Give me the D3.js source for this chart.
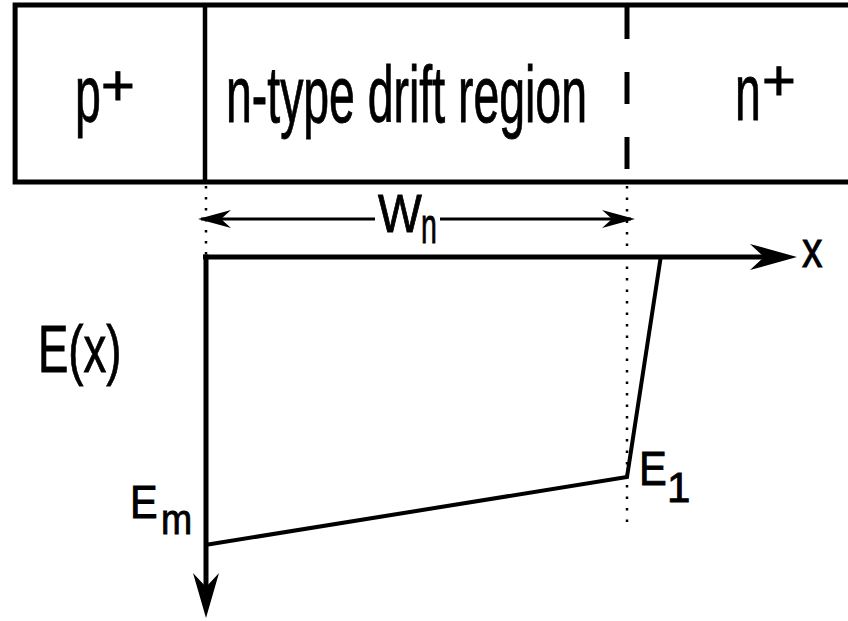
<!DOCTYPE html>
<html lang="en">

<head>
  <meta charset="utf-8">
  <title>Field profile in a p+ n n+ diode</title>
  <script src="https://cdnjs.cloudflare.com/ajax/libs/d3/7.8.5/d3.min.js"></script>
  <style>
    body { margin: 0; background: white; }
    text { font-family: 'Liberation Sans', Arial, sans-serif; fill: black; stroke: black; stroke-width: 0.9; }
  </style>
</head>

<body>

  <figure id="chart" style="margin:0"></figure>

  <script>
    // regions along x (drift width Wn = 1)
    const regionNames = ['p', 'n-type drift region', 'n'];
    const regionSups = ['+', '', '+'];
    const regionEdges = [-0.45, 0, 1, 1.53];

    // field profile E(x), normalised to Em = 1
    const fieldX = [0, 1, 1.08];
    const fieldE = [1, 0.764, 0];

    const axisLabels = ['x', 'E(x)'];
    const pointLabels = [['E', 'm'], ['E', '1']];
    const widthLabel = ['W', 'n'];

    createChart('figure#chart', 848, 621);

    function createChart(elementId, width, height) {

      const svg = d3.select(elementId)
        .append('svg')
        .attr('width', width)
        .attr('height', height);

      // scales

      const xScale = d3.scaleLinear()
        .domain([0, 1])
        .range([205, 627]);

      const yScale = d3.scaleLinear()
        .domain([0, 1])
        .range([257, 545]);

      const boxTop = 5;
      const boxBottom = 182;

      // condensed text helper
      function label(x, y, str, size, sx, anchor) {
        return svg.append('text')
          .attr('transform', `translate(${x},${y}) scale(${sx},1)`)
          .attr('font-size', size)
          .attr('text-anchor', anchor || 'start')
          .text(str);
      }

      function stealth(tipX, tipY, dir, len, half, notch) {
        // dir: 'right', 'left', 'down'
        let p;
        if (dir === 'right') p = [[tipX, tipY], [tipX - len, tipY - half], [tipX - len + notch, tipY], [tipX - len, tipY + half]];
        if (dir === 'left') p = [[tipX, tipY], [tipX + len, tipY - half], [tipX + len - notch, tipY], [tipX + len, tipY + half]];
        if (dir === 'down') p = [[tipX, tipY], [tipX - half, tipY - len], [tipX, tipY - len + notch], [tipX + half, tipY - len]];
        svg.append('path')
          .attr('d', d3.line()(p) + 'Z')
          .attr('fill', 'black');
      }

      // device box

      svg.append('rect')
        .attr('x', xScale(regionEdges[0]))
        .attr('y', boxTop)
        .attr('width', xScale(regionEdges[3]) - xScale(regionEdges[0]))
        .attr('height', boxBottom - boxTop)
        .attr('fill', 'none')
        .attr('stroke', 'black')
        .attr('stroke-width', 5);

      svg.append('line')
        .attr('x1', xScale(regionEdges[1])).attr('x2', xScale(regionEdges[1]))
        .attr('y1', boxTop).attr('y2', boxBottom)
        .attr('stroke', 'black')
        .attr('stroke-width', 4.5);

      svg.append('line')
        .attr('x1', xScale(regionEdges[2])).attr('x2', xScale(regionEdges[2]))
        .attr('y1', boxTop + 2).attr('y2', boxBottom)
        .attr('stroke', 'black')
        .attr('stroke-width', 5)
        .attr('stroke-dasharray', '32,33');

      // region labels

      label(75, 121, regionNames[0], 80, 0.58);
      label(118, 105, regionSups[0], 58, 1, 'middle');
      label(226, 122, regionNames[1], 80, 0.58);
      label(735, 120, regionNames[2], 80, 0.58);
      label(779, 100, regionSups[2], 58, 1, 'middle');

      // dotted guides

      svg.append('line')
        .attr('x1', xScale(0) + 1).attr('x2', xScale(0) + 1)
        .attr('y1', boxBottom + 4).attr('y2', yScale(0))
        .attr('stroke', 'black')
        .attr('stroke-width', 2.5)
        .attr('stroke-dasharray', '2.5,8.5');

      svg.append('line')
        .attr('x1', xScale(1)).attr('x2', xScale(1))
        .attr('y1', boxBottom + 4).attr('y2', 531)
        .attr('stroke', 'black')
        .attr('stroke-width', 2.5)
        .attr('stroke-dasharray', '2.5,9');

      // Wn dimension arrow

      const wy = 219;
      svg.append('line')
        .attr('x1', xScale(0) - 4).attr('x2', 375)
        .attr('y1', wy).attr('y2', wy)
        .attr('stroke', 'black').attr('stroke-width', 3.2);
      svg.append('line')
        .attr('x1', 440).attr('x2', xScale(1) + 4)
        .attr('y1', wy).attr('y2', wy)
        .attr('stroke', 'black').attr('stroke-width', 3.2);
      stealth(xScale(0) - 7, wy, 'left', 33, 9, 10);
      stealth(xScale(1) + 8, wy, 'right', 33, 9, 10);

      label(378, 232, widthLabel[0], 54, 0.86);
      label(421, 243, widthLabel[1], 50, 0.57);

      // axes

      svg.append('line')
        .attr('x1', xScale(0) - 2).attr('x2', 770)
        .attr('y1', yScale(0)).attr('y2', yScale(0))
        .attr('stroke', 'black').attr('stroke-width', 5);
      stealth(797, yScale(0), 'right', 47, 13, 14);
      label(802, 267, axisLabels[0], 50, 0.82);

      svg.append('line')
        .attr('x1', xScale(0) + 1).attr('x2', xScale(0) + 1)
        .attr('y1', yScale(0) - 2.5).attr('y2', 595)
        .attr('stroke', 'black').attr('stroke-width', 5);
      stealth(xScale(0) + 1, 618, 'down', 45, 13, 14);
      label(38, 372, axisLabels[1], 66, 0.69);

      // field profile

      const profile = fieldX.map((x, i) => [xScale(x), yScale(fieldE[i])]);
      svg.append('path')
        .attr('d', d3.line()(profile))
        .attr('fill', 'none')
        .attr('stroke', 'black')
        .attr('stroke-width', 4)
        .attr('stroke-linejoin', 'miter');

      // point labels

      label(130, 518, pointLabels[0][0], 46, 0.9);
      label(161, 534, pointLabels[0][1], 42, 0.89);
      label(639, 485, pointLabels[1][0], 49, 0.85);
      label(667, 502, pointLabels[1][1], 42, 1);
    }
  </script>

</body>

</html>
